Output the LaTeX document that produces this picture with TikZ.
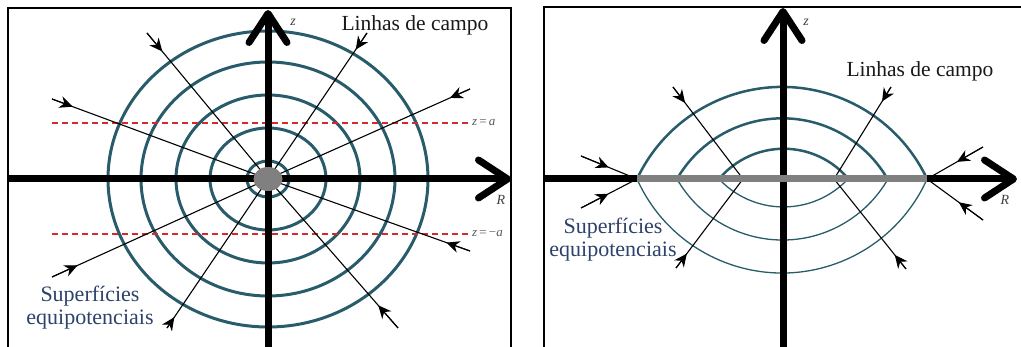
\documentclass[tikz,border=0pt]{standalone}
\usepackage{amsmath}
\usepackage{fontspec}
\setmainfont{Liberation Serif}
\usepackage{xcolor}
\usetikzlibrary{arrows.meta,calc}

\definecolor{eqteal}{RGB}{40,92,106}
\definecolor{eqtext}{RGB}{45,66,106}
\definecolor{diskgray}{RGB}{128,128,128}
\definecolor{zred}{RGB}{215,40,45}

\begin{document}
\begin{tikzpicture}[x=1pt, y=1pt,
    frame/.style={line width=2.3pt},
    axis/.style={line width=7pt, -{Straight Barb[length=29pt,width=38pt,round]}},
    equi/.style={eqteal, line width=3pt},
    fieldline/.style={line width=1.1pt},
    fieldarrow/.style={fieldline, -{Stealth[length=13pt,width=12pt]}},
    level/.style={zred, dash pattern=on 6pt off 4pt, line width=1.2pt},
    lbl/.style={font=\fontsize{21.5}{24}\selectfont, text=black!90},
    surf/.style={font=\fontsize{22}{23}\selectfont, text=eqtext, align=center},
    axlbl/.style={font=\fontsize{14}{16}\selectfont\itshape, text=black!75},
    lvllbl/.style={font=\fontsize{13}{15}\selectfont, text=black!65, anchor=west, inner sep=1pt}
  ]
  \clip (0,0) rectangle (1021,347);

  % Painel da esquerda: carga pontual
  \coordinate (O) at (268,168);
  \draw[frame] (8,-5) -- (8,339) -- (511,339) -- (511,-5);

  \foreach \rx/\ry in {160/148, 127/117, 92/84, 58/51, 21/18}
    \draw[equi] (O) ellipse [x radius=\rx, y radius=\ry];

  \draw[level] (52,224) -- (470,224);
  \draw[level] (52,113) -- (470,113);
  \node[lvllbl] (zpos) at (471,224) {\textit{z}\,=\,\textit{a}};
  \node[lvllbl] (zneg) at (471,113) {\textit{z}\,=\,−\textit{a}};

  \coordinate (a1) at (147,314);
  \coordinate (a2) at (398,19);
  \coordinate (b1) at (367,314);
  \coordinate (b2) at (167,19);
  \coordinate (c1) at (52,248);
  \coordinate (c2) at (470,96);
  \coordinate (d1) at (52,70);
  \coordinate (d2) at (470,258);
  \foreach \e/\dist in {a1/24, a2/30, b1/20, b2/13, c1/22, c2/25, d1/28, d2/22} {
    \draw[fieldline] (\e) -- (O);
    \draw[fieldarrow] (\e) -- ($(\e)!\dist pt!(O)$);
  }

  \draw[axis] (268,-5) -- (268,337);
  \draw[axis] (8,168) -- (511,168);
  \fill[diskgray] (O) ellipse [x radius=14.5, y radius=12];

  \node[axlbl] (zl) at (293,325) {z};
  \node[axlbl] (Rl) at (501,147) {R};
  \node[lbl] (linhasl) at (415,322) {Linhas de campo};
  \node[surf] (surfl) at (90,39) {Superfícies\\equipotenciais};

  % Painel da direita: disco carregado
  \coordinate (Q) at (782,168);
  \coordinate (P1) at (637,168);
  \coordinate (P2) at (927,168);
  \coordinate (E) at (743,168);
  \coordinate (F) at (834,168);
  \draw[frame] (544,-5) -- (544,340) -- (1030,340);

  % arcos de cima
  \draw[equi, line width=2.5pt] (P1) arc[start angle=154.8, end angle=25.2, radius=160.3];
  \draw[equi, line width=2.5pt] (677,168) arc[start angle=149.9, end angle=30.1, radius=121.7];
  \draw[equi, line width=2.5pt] (719,168) arc[start angle=140.1, end angle=39.9, radius=84.4];
  % arcos de baixo
  \draw[equi, line width=1.3pt] (P1) arc[start angle=204.1, end angle=335.9, radius=158.9];
  \draw[equi, line width=1.3pt] (677,168) arc[start angle=209.9, end angle=330.1, radius=121.7];
  \draw[equi, line width=1.3pt] (719,168) arc[start angle=223.1, end angle=316.9, radius=88.3];

  \coordinate (e1) at (673,260);
  \coordinate (e2) at (676,79);
  \coordinate (f1) at (891,260);
  \coordinate (f2) at (906,78);
  \coordinate (g1) at (581,191);
  \coordinate (g2) at (581,139);
  \coordinate (h1) at (983,200);
  \coordinate (h2) at (983,127);
  \foreach \e/\t/\dist in {e1/E/20, e2/E/18, f1/F/17, f2/F/18,
                           g1/P1/30, g2/P1/31, h1/P2/30, h2/P2/30} {
    \draw[fieldline] (\e) -- (\t);
    \draw[fieldarrow] (\e) -- ($(\e)!\dist pt!(\t)$);
  }

  \draw[axis] (783,-5) -- (783,339);
  \draw[axis] (544,168) -- (1017,168);
  \draw[diskgray, line width=7pt] (P1) -- (P2);

  \node[axlbl] (zr) at (806,325) {z};
  \node[axlbl] (Rr) at (1005,147) {R};
  \node[lbl] (linhasr) at (920,276) {Linhas de campo};
  \node[surf] (surfr) at (613,107) {Superfícies\\equipotenciais};
\end{tikzpicture}
\end{document}
